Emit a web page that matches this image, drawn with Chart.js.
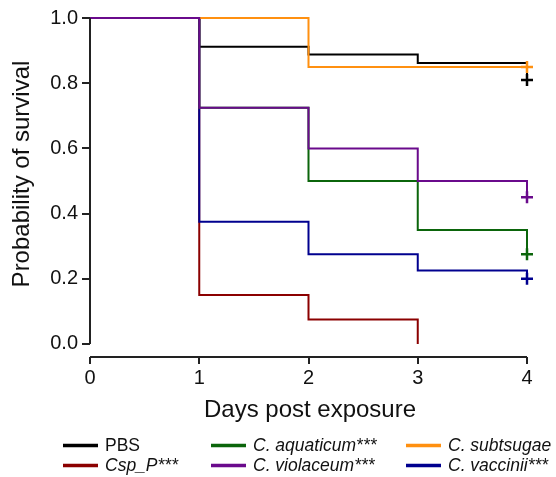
<!DOCTYPE html>
<html>
<head>
<meta charset="utf-8">
<script src="https://cdn.jsdelivr.net/npm/chart.js@4.4.0/dist/chart.umd.min.js"></script>
<style>
  body { margin: 0; background: #fff; }
  #wrap { width: 556px; height: 477px; }
</style>
</head>
<body>
<div id="wrap"><canvas id="km" width="556" height="477"></canvas></div>
<script>
// survival data
var days = [0, 1, 2, 3, 4];
var pbs = [1, 0.912, 0.888, 0.862, 0.81];
var cspP = [1, 0.15, 0.075, 0, null];
var aquaticum = [1, 0.725, 0.5, 0.35, 0.275];
var violaceum = [1, 0.725, 0.6, 0.5, 0.45];
var subtsugae = [1, 1, 0.85, 0.85, 0.85];
var vaccinii = [1, 0.375, 0.275, 0.225, 0.2];
var xTicks = [0, 1, 2, 3, 4];
var yTicks = [0, 0.2, 0.4, 0.6, 0.8, 1.0];

var FONT = "'Liberation Sans', Arial, Helvetica, sans-serif";
var AXIS = '#222';

// one step curve (value held until the next day), censor mark (+) on the last point
function curve(label, values, color, order, italic) {
  return {
    label: label,
    data: days.map(function(d, i) { return {x: d, y: values[i]}; }),
    borderColor: color,
    backgroundColor: color,
    borderWidth: 2,
    stepped: 'before',
    fill: false,
    order: order,
    clip: false,
    pointStyle: 'cross',
    pointRadius: function(ctx) {
      return (ctx.dataIndex === days.length - 1 && values[ctx.dataIndex] !== null) ? 6 : 0;
    },
    pointBorderWidth: 2.5,
    pointHoverRadius: 0,
    italic: italic
  };
}

// legend is two rows, filled column by column
var legendX = [63, 211, 406];
var legendY = [451, 471];

var axesAndLegend = {
  id: 'axesAndLegend',
  afterDraw: function(chart) {
    var ctx = chart.ctx;
    var xs = chart.scales.x, ys = chart.scales.y;
    var area = chart.chartArea;
    ctx.save();
    ctx.strokeStyle = AXIS;
    ctx.lineWidth = 2;
    ctx.beginPath();
    ctx.moveTo(area.left, ys.getPixelForValue(1));
    ctx.lineTo(area.left, ys.getPixelForValue(0));
    ctx.moveTo(xs.getPixelForValue(0), area.bottom);
    ctx.lineTo(xs.getPixelForValue(4), area.bottom);
    ctx.stroke();

    // axis titles
    ctx.fillStyle = '#111';
    ctx.font = '24px ' + FONT;
    ctx.textAlign = 'center';
    ctx.textBaseline = 'alphabetic';
    ctx.fillText('Days post exposure', 310, 417);
    ctx.save();
    ctx.translate(29, 174);
    ctx.rotate(-Math.PI / 2);
    ctx.fillText('Probability of survival', 0, 0);
    ctx.restore();

    // legend
    ctx.textAlign = 'left';
    chart.data.datasets.forEach(function(ds, i) {
      var x = legendX[Math.floor(i / 2)];
      var y = legendY[i % 2];
      ctx.strokeStyle = ds.borderColor;
      ctx.lineWidth = 3.5;
      ctx.beginPath();
      ctx.moveTo(x, y - 5.5);
      ctx.lineTo(x + 35, y - 5.5);
      ctx.stroke();
      ctx.fillStyle = '#111';
      ctx.font = (ds.italic ? 'italic ' : '') + '17.5px ' + FONT;
      ctx.fillText(ds.label, x + 42, y);
    });
    ctx.restore();
  }
};

new Chart(document.getElementById('km'), {
  type: 'line',
  data: {
    datasets: [
      curve('PBS', pbs, '#000000', 5, false),
      curve('Csp_P***', cspP, '#8B0000', 4, true),
      curve('C. aquaticum***', aquaticum, '#0B650B', 2, true),
      curve('C. violaceum***', violaceum, '#6A0A8C', 0, true),
      curve('C. subtsugae', subtsugae, '#FF9010', 1, true),
      curve('C. vaccinii***', vaccinii, '#00008F', 3, true)
    ]
  },
  options: {
    responsive: false,
    animation: false,
    events: [],
    layout: { padding: { top: 18, right: 29, left: 0, bottom: 0 } },
    plugins: { legend: { display: false }, tooltip: { enabled: false } },
    scales: {
      x: {
        type: 'linear',
        min: 0,
        max: 4,
        afterBuildTicks: function(s) { s.ticks = xTicks.map(function(v) { return {value: v}; }); },
        afterFit: function(s) { s.height = 120; },
        grid: { display: true, drawOnChartArea: false, drawTicks: true, tickLength: 7, color: AXIS, lineWidth: 2 },
        border: { display: false },
        ticks: { color: '#111', font: { family: FONT, size: 20 }, padding: 2, maxRotation: 0, autoSkip: false,
                 callback: function(v) { return v; } }
      },
      y: {
        type: 'linear',
        min: -0.04,
        max: 1,
        afterBuildTicks: function(s) { s.ticks = yTicks.map(function(v) { return {value: v}; }); },
        afterFit: function(s) { s.width = 90; },
        grid: { display: true, drawOnChartArea: false, drawTicks: true, tickLength: 8, color: AXIS, lineWidth: 2 },
        border: { display: false },
        ticks: { color: '#111', font: { family: FONT, size: 20 }, padding: 4, autoSkip: false,
                 callback: function(v) { return v.toFixed(1); } }
      }
    }
  },
  plugins: [axesAndLegend]
});
</script>
</body>
</html>
